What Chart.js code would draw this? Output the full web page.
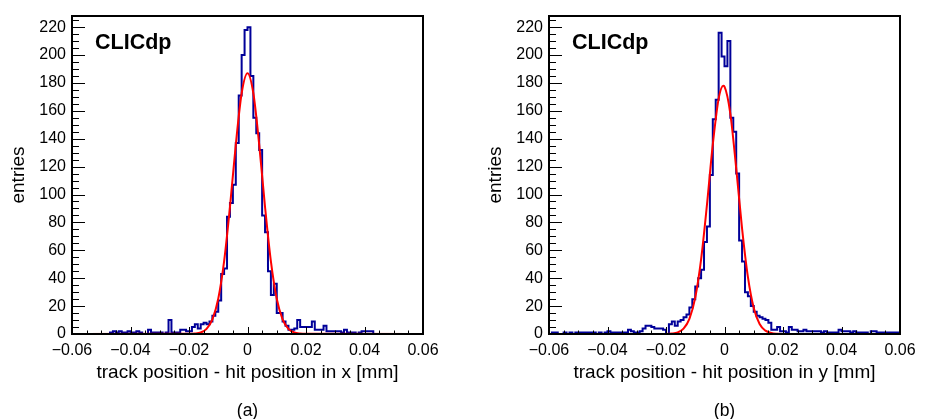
<!DOCTYPE html>
<html><head><meta charset="utf-8">
<script src="https://cdn.jsdelivr.net/npm/chart.js@4.4.0/dist/chart.umd.min.js"></script>
<style>
html,body{margin:0;padding:0;background:#fff;overflow:hidden}
#wrap{position:relative;width:927px;height:419px;background:#fff}
canvas{position:absolute;top:0}
</style></head><body>
<div id="wrap">
<canvas id="ca" width="463" height="419" style="left:0;width:463px;height:419px"></canvas>
<canvas id="cb" width="464" height="419" style="left:463px;width:464px;height:419px"></canvas>
</div>
<script>
// histogram binning: 120 bins of 0.001 mm from -0.06 to 0.06
const binLow = -0.06;
const binWidth = 0.001;

// panel (a): residuals in x, entries per bin
const countsX = [
  0,0,0,0,0,0,0,0,0,0,
  0,0,0,1,2,1,2,1,1,2,
  1,1,2,1,0,0,3,1,1,1,
  1,0,1,10,1,1,1,3,3,2,
  2,5,7,4,7,8,7,9,13,16,
  24,43,47,84,94,107,137,171,200,218,
  220,185,155,144,132,85,73,45,28,36,
  15,15,9,6,3,3,4,10,5,5,
  5,5,9,3,3,3,6,2,2,2,
  2,2,1,3,1,1,1,0,1,2,
  2,2,2,0,0,0,0,0,0,0,
  0,0,0,0,0,0,0,0,0,0
];

// panel (b): residuals in y, entries per bin
const countsY = [
  0,1,1,0,0,1,0,1,0,1,
  1,1,1,1,1,1,0,1,0,1,
  2,1,1,1,1,1,1,3,2,1,
  1,2,4,6,6,5,4,4,4,3,
  0,7,9,6,9,10,12,14,19,25,
  34,40,46,66,77,114,154,168,216,199,
  192,210,155,145,115,67,52,30,27,20,
  16,13,12,11,10,8,3,3,5,2,
  2,1,5,3,3,2,2,3,2,2,
  2,2,2,1,2,1,1,1,1,3,
  2,2,2,1,2,1,1,1,1,0,
  2,2,1,1,1,1,1,1,1,1
];

// fitted curves at these positions
const fitPosA = [-0.06,-0.02,-0.018,-0.016,-0.014,-0.012,-0.01,-0.008,-0.006,-0.004,-0.002,0,0.002,0.004,0.006,0.008,0.01,0.012,0.014,0.016,0.018,0.02,0.06];
const fitValA = [0,0.1,0.3,1.1,3.7,10.5,25.3,52.0,91.0,135.8,172.6,187,172.6,135.8,91.0,52.0,25.3,10.5,3.7,1.1,0.3,0.1,0];
const fitPosB = [-0.06,-0.02,-0.018,-0.016,-0.014,-0.012,-0.01,-0.008,-0.006,-0.004,-0.002,-0.0004,0,0.002,0.004,0.006,0.008,0.01,0.012,0.014,0.016,0.018,0.02,0.06];
const fitValB = [0,0.06,0.28,1.1,3.8,10.8,26.1,53.5,92.6,135.9,168.8,178,177.4,157.9,118.9,75.8,41.0,18.7,7.2,2.4,0.7,0.15,0.03,0];

// axis ticks
const xTickValues = [-0.06,-0.04,-0.02,0,0.02,0.04,0.06];
const xTickLabels = ['\u22120.06','\u22120.04','\u22120.02','0','0.02','0.04','0.06'];
const yTickValues = [0,20,40,60,80,100,120,140,160,180,200,220];
const yMax = 228;

Chart.defaults.color = '#000';
Chart.defaults.font.family = "'Liberation Sans', Arial, Helvetica, sans-serif";

const framePlugin = {
  id: 'frame',
  afterDatasetsDraw(chart) {
    const {ctx, chartArea: a, scales: {x, y}} = chart;
    ctx.save();
    ctx.strokeStyle = '#000';
    ctx.lineWidth = 1;
    ctx.beginPath();
    for (let v = 0; v <= yMax; v += 5) {
      const p = Math.round(y.getPixelForValue(v)) + 0.5;
      const len = (v % 20 === 0) ? 13 : 7;
      ctx.moveTo(a.left, p); ctx.lineTo(a.left + len, p);
    }
    for (let k = -12; k <= 12; k++) {
      const p = Math.round(x.getPixelForValue(k * 0.005)) + 0.5;
      const len = (k % 4 === 0) ? 7 : 3.5;
      ctx.moveTo(p, a.bottom); ctx.lineTo(p, a.bottom - len);
    }
    ctx.stroke();
    ctx.lineWidth = 2;
    ctx.strokeRect(a.left, a.top, a.right - a.left, a.bottom - a.top);
    ctx.fillStyle = '#000';
    ctx.font = "bold 21.5px 'Liberation Sans', Arial, sans-serif";
    ctx.textBaseline = 'alphabetic';
    ctx.textAlign = 'left';
    ctx.fillText('CLICdp', a.left + 23, a.top + 32.5);
    ctx.restore();
  }
};

function makeChart(id, counts, fitPos, fitVal, xTitle, panel, padLeft, padRight) {
  const hist = counts.map((c, i) => ({x: binLow + i * binWidth, y: c}));
  hist.push({x: binLow + counts.length * binWidth, y: counts[counts.length - 1]});
  const fit = fitPos.map((p, i) => ({x: p, y: fitVal[i]}));
  return new Chart(document.getElementById(id), {
    type: 'line',
    data: {
      datasets: [
        {data: fit, borderColor: '#ff0000', borderWidth: 2, pointRadius: 0,
         cubicInterpolationMode: 'monotone', fill: false},
        {data: hist, borderColor: '#000099', borderWidth: 2, pointRadius: 0,
         stepped: 'before', fill: false}
      ]
    },
    options: {
      responsive: false,
      animation: false,
      events: [],
      layout: {padding: {top: 16, left: padLeft, right: padRight, bottom: 0}},
      plugins: {
        legend: {display: false},
        tooltip: {enabled: false},
        title: {display: true, text: panel, position: 'bottom', fullSize: false,
                font: {size: 17.5, weight: 'normal', lineHeight: 0.9},
                padding: {top: 13.25, bottom: 0}, color: '#000'}
      },
      scales: {
        x: {
          type: 'linear', min: -0.06, max: 0.06,
          afterBuildTicks: s => { s.ticks = xTickValues.map(v => ({value: v})); },
          ticks: {callback: (v, i) => xTickLabels[i], font: {size: 16}, padding: 6.5,
                  maxRotation: 0, autoSkip: false, color: '#000'},
          grid: {display: false, drawTicks: false},
          border: {display: false},
          title: {display: true, text: xTitle, font: {size: 19, lineHeight: 1},
                  padding: {top: 0, bottom: 7.5}, color: '#000'},
          afterFit: s => { s.height = 56; }
        },
        y: {
          min: 0, max: yMax,
          afterBuildTicks: s => { s.ticks = yTickValues.map(v => ({value: v})); },
          ticks: {font: {size: 16}, padding: 6, color: '#000', autoSkip: false},
          grid: {display: false, drawTicks: false},
          border: {display: false},
          title: {display: true, text: 'entries', font: {size: 19, lineHeight: 1},
                  padding: {top: 9.5, bottom: 0}, color: '#000'},
          afterFit: s => { s.width = 72; }
        }
      }
    },
    plugins: [framePlugin]
  });
}

makeChart('ca', countsX, fitPosA, fitValA, 'track position - hit position in x [mm]', '(a)', 0, 40);
makeChart('cb', countsY, fitPosB, fitValB, 'track position - hit position in y [mm]', '(b)', 14, 27);
</script>
</body></html>
